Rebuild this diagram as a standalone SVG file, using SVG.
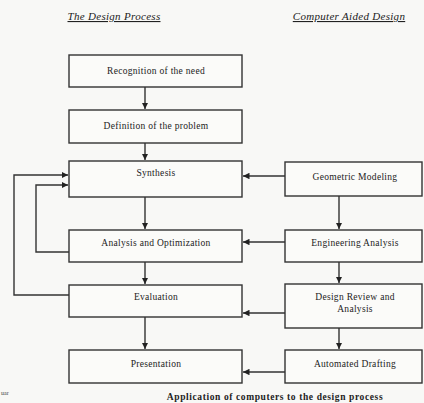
<svg xmlns="http://www.w3.org/2000/svg" width="424" height="403" viewBox="0 0 424 403">
<defs>
<style>
.bg{fill:#f8f8f6}
.box{fill:#fbfbf9;stroke:#333;stroke-width:1.4}
.t{font-family:"Liberation Serif",serif;font-size:9.5px;letter-spacing:0.3px;fill:#222;text-anchor:middle}
.h{font-family:"Liberation Serif",serif;font-size:11px;letter-spacing:0.3px;font-style:italic;fill:#222;text-anchor:middle;text-decoration:underline}
.cap{font-family:"Liberation Serif",serif;font-size:9.5px;letter-spacing:0.6px;font-weight:bold;fill:#222;text-anchor:middle}
.c{fill:none;stroke:#333;stroke-width:1.4}
</style>
<marker id="ah" viewBox="0 0 10 10" refX="10" refY="5" markerWidth="6.5" markerHeight="6.5" orient="auto" markerUnits="userSpaceOnUse">
<path d="M0,0 L10,5 L0,10 z" fill="#222"/>
</marker>
</defs>
<rect class="bg" x="0" y="0" width="424" height="403"/>
<text class="h" x="114" y="20">The Design Process</text>
<text class="h" x="349" y="20">Computer Aided Design</text>

<g id="connectors">
<path class="c" d="M145,87 V109" marker-end="url(#ah)"/>
<path class="c" d="M145,143 V160" marker-end="url(#ah)"/>
<path class="c" d="M145,197 V229" marker-end="url(#ah)"/>
<path class="c" d="M145,262 V284" marker-end="url(#ah)"/>
<path class="c" d="M145,317 V349" marker-end="url(#ah)"/>
<path class="c" d="M339,196 V229" marker-end="url(#ah)"/>
<path class="c" d="M339,262 V283" marker-end="url(#ah)"/>
<path class="c" d="M339,328 V349" marker-end="url(#ah)"/>
<path class="c" d="M285,176 H243" marker-end="url(#ah)"/>
<path class="c" d="M285,242 H243" marker-end="url(#ah)"/>
<path class="c" d="M285,313 H243" marker-end="url(#ah)"/>
<path class="c" d="M285,372 H243" marker-end="url(#ah)"/>
<path class="c" d="M69,295 H14 V175 H68" marker-end="url(#ah)"/>
<path class="c" d="M69,252 H36 V185 H68" marker-end="url(#ah)"/>
</g>

<g id="recognition"><rect class="box" x="69" y="55" width="173" height="32"/><text class="t" x="156" y="74">Recognition of the need</text></g>
<g id="definition"><rect class="box" x="69" y="110" width="173" height="33"/><text class="t" x="156" y="129">Definition of the problem</text></g>
<g id="synthesis"><rect class="box" x="69" y="161" width="173" height="36"/><text class="t" x="156" y="176">Synthesis</text></g>
<g id="analysis"><rect class="box" x="69" y="230" width="173" height="32"/><text class="t" x="156" y="246">Analysis and Optimization</text></g>
<g id="evaluation"><rect class="box" x="69" y="285" width="173" height="32"/><text class="t" x="156" y="300">Evaluation</text></g>
<g id="presentation"><rect class="box" x="69" y="350" width="173" height="33"/><text class="t" x="156" y="367">Presentation</text></g>

<g id="geometric"><rect class="box" x="285" y="162" width="137" height="34"/><text class="t" x="355" y="180">Geometric Modeling</text></g>
<g id="engineering"><rect class="box" x="285" y="230" width="137" height="32"/><text class="t" x="355" y="246">Engineering Analysis</text></g>
<g id="review"><rect class="box" x="285" y="284" width="137" height="44"/><text class="t" x="355" y="300">Design Review and</text><text class="t" x="355" y="312">Analysis</text></g>
<g id="drafting"><rect class="box" x="285" y="350" width="137" height="33"/><text class="t" x="355" y="367">Automated Drafting</text></g>

<text class="cap" x="275" y="400">Application of computers to the design process</text>
<text x="1" y="395" font-family="Liberation Serif,serif" font-size="6px" fill="#444">uar</text>
</svg>
